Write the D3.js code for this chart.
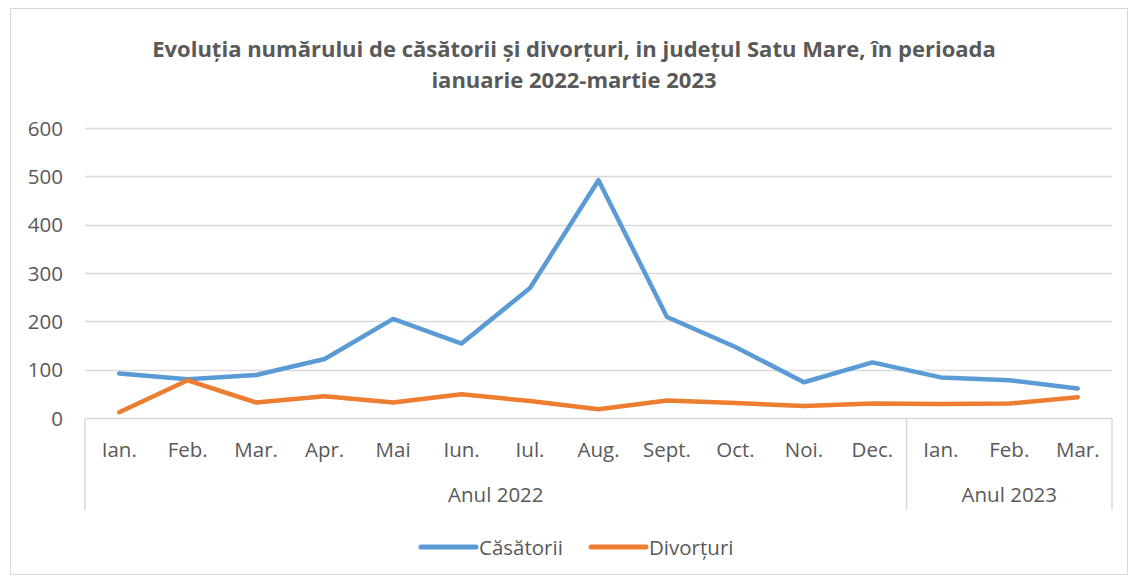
<!DOCTYPE html>
<html>
<head>
<meta charset="utf-8">
<script src="https://cdn.jsdelivr.net/npm/d3@7"></script>
<style>
  body { margin: 0; background: #fff; }
  svg text { font-family: "Open Sans", sans-serif; fill: #595959; }
</style>
</head>
<body>
<div id="chart"></div>
<script>
// categories (months) and which year group they belong to
const months = ["Ian.", "Feb.", "Mar.", "Apr.", "Mai", "Iun.", "Iul.", "Aug.", "Sept.", "Oct.", "Noi.", "Dec.", "Ian.", "Feb.", "Mar."];
const years = ["Anul 2022", "Anul 2022", "Anul 2022", "Anul 2022", "Anul 2022", "Anul 2022", "Anul 2022", "Anul 2022",
               "Anul 2022", "Anul 2022", "Anul 2022", "Anul 2022", "Anul 2023", "Anul 2023", "Anul 2023"];

// series values
const casatorii = [92, 80, 89, 122, 205, 154, 269, 492, 209, 147, 74, 115, 84, 78, 61];
const divorturi = [12, 78, 32, 45, 32, 49, 35, 18, 36, 31, 25, 30, 29, 30, 43];

const yTicks = [0, 100, 200, 300, 400, 500, 600];
const seriesNames = ["Căsătorii", "Divorțuri"];
const colors = ["#5B9BD5", "#ED7D31"];

const width = 1131, height = 577;
const margin = {top: 128, right: 19, bottom: 159, left: 85};
const labelSize = "20.5px";

const svg = d3.select("#chart").append("svg")
  .attr("width", width)
  .attr("height", height);

// outer chart border
svg.append("rect")
  .attr("x", 10.5).attr("y", 8.5)
  .attr("width", 1117).attr("height", 566)
  .attr("fill", "none")
  .attr("stroke", "#d9d9d9");

// title
const title = svg.append("text")
  .attr("text-anchor", "middle")
  .style("font-weight", "bold")
  .style("font-size", "22px");
title.append("tspan").attr("x", 574).attr("y", 57)
  .text("Evoluția numărului de căsătorii și divorțuri, in județul Satu Mare, în perioada");
title.append("tspan").attr("x", 574).attr("y", 88)
  .text("ianuarie 2022-martie 2023");

const x = d3.scaleBand()
  .domain(d3.range(months.length))
  .range([margin.left, width - margin.right]);

const y = d3.scaleLinear()
  .domain([0, 600])
  .range([height - margin.bottom, margin.top]);

// gridlines
svg.append("g").selectAll("line")
  .data(yTicks.filter(d => d > 0))
  .enter().append("line")
  .attr("x1", margin.left).attr("x2", width - margin.right)
  .attr("y1", d => Math.round(y(d)) + 0.5).attr("y2", d => Math.round(y(d)) + 0.5)
  .attr("stroke", "#d9d9d9").attr("stroke-width", 1.5);

// y axis labels
svg.append("g").selectAll("text")
  .data(yTicks)
  .enter().append("text")
  .attr("x", 63)
  .attr("y", d => y(d) + 7.5)
  .attr("text-anchor", "end")
  .style("font-size", labelSize)
  .text(d => d);

// x axis: baseline and group box
const axisY = Math.round(y(0)) + 0.5;
const boxBottom = 510;
const xAxis = svg.append("g").attr("stroke", "#d9d9d9").attr("stroke-width", 1.5);
xAxis.append("line")
  .attr("x1", margin.left).attr("x2", width - margin.right)
  .attr("y1", axisY).attr("y2", axisY);

// group boundaries: start of first, each year change, end of last
const bounds = [0];
years.forEach((yr, i) => { if (i > 0 && yr !== years[i - 1]) bounds.push(i); });
bounds.push(years.length);
const edge = i => (i < months.length ? x(i) : x(months.length - 1) + x.bandwidth());
xAxis.selectAll(".sep")
  .data(bounds)
  .enter().append("line")
  .attr("x1", edge)
  .attr("x2", edge)
  .attr("y1", axisY).attr("y2", boxBottom);

// month labels
svg.append("g").selectAll("text")
  .data(months)
  .enter().append("text")
  .attr("x", (d, i) => x(i) + x.bandwidth() / 2)
  .attr("y", 457)
  .attr("text-anchor", "middle")
  .style("font-size", labelSize)
  .text(d => d);

// year labels centered on each group
const groups = bounds.slice(0, -1).map((b, k) => ({start: b, end: bounds[k + 1], label: years[b]}));
svg.append("g").selectAll("text")
  .data(groups)
  .enter().append("text")
  .attr("x", g => (edge(g.start) + edge(g.end)) / 2)
  .attr("y", 502)
  .attr("text-anchor", "middle")
  .style("font-size", labelSize)
  .text(g => g.label);

// lines
const line = d3.line()
  .x((d, i) => x(i) + x.bandwidth() / 2)
  .y(d => y(d));

[casatorii, divorturi].forEach((s, k) => {
  svg.append("path")
    .datum(s)
    .attr("fill", "none")
    .attr("stroke", colors[k])
    .attr("stroke-width", 4.5)
    .attr("stroke-linejoin", "round")
    .attr("stroke-linecap", "round")
    .attr("d", line);
});

// legend
const legendX = [421, 591];
const legend = svg.append("g");
seriesNames.forEach((name, k) => {
  legend.append("line")
    .attr("x1", legendX[k]).attr("x2", legendX[k] + 55)
    .attr("y1", 547).attr("y2", 547)
    .attr("stroke", colors[k]).attr("stroke-width", 5)
    .attr("stroke-linecap", "round");
  legend.append("text")
    .attr("x", legendX[k] + 58)
    .attr("y", 554.5)
    .style("font-size", labelSize)
    .text(name);
});
</script>
</body>
</html>
